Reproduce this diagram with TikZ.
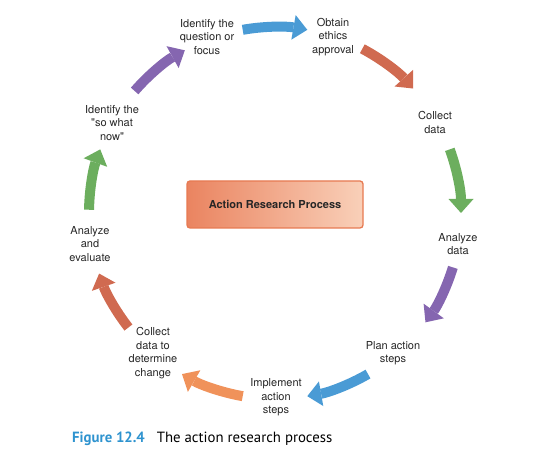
\documentclass[tikz,border=0pt]{standalone}
\usepackage{fontspec}
\setmainfont{TeX Gyre Heros}
\newfontfamily\plainfont{TeX Gyre Heros}
\newfontfamily\capfont{PT Sans}
\usetikzlibrary{arrows.meta,calc}
\definecolor{cblue}{HTML}{4A9BD5}
\definecolor{cred}{HTML}{D06A50}
\definecolor{cgreen}{HTML}{6CAE5E}
\definecolor{cpurple}{HTML}{8566B0}
\definecolor{corange}{HTML}{F0925A}
\definecolor{boxl}{HTML}{EA8460}
\definecolor{boxr}{HTML}{F9D0B9}
\definecolor{boxedge}{HTML}{E77A52}
\definecolor{figblue}{HTML}{2E93CF}
\definecolor{txt}{HTML}{262626}
\begin{document}
\begin{tikzpicture}[x=1pt,y=1pt,
  lab/.style={align=center,font=\plainfont\fontsize{11}{13.6}\selectfont,text=txt,inner sep=0pt},
  carrow/.style={line width=10pt,-{Triangle[width=25pt,length=14pt,line width=0pt]}}]
\useasboundingbox (0,0) rectangle (551,462);
\coordinate (C) at (275,249);
% curved arrows
\foreach \a/\b/\c in {100/80/cblue, 62/42/cred, 20/0/cgreen, -17/-36/cpurple,
  -60/-80/cblue, -100/-120/corange, -142/-161/cred, 179/160/cgreen, 139/119/cpurple}
  \draw[carrow,draw=\c] ($(C)+(\a:186)$) arc[start angle=\a,end angle=\b,radius=186];
% step labels
\node[lab] (Q1) at (207,425) {Identify the\\question or\\focus};
\node[lab] (Q2) at (333,425) {Obtain\\ethics\\approval};
\node[lab] (Q3) at (435,339.5) {Collect\\data};
\node[lab] (Q4) at (458,218) {Analyze\\data};
\node[lab] (Q5) at (393,109) {Plan action\\steps};
\node[lab] (Q6) at (276,64.5) {Implement\\action\\steps};
\node[lab] (Q7) at (153,109) {Collect\\data to\\determine\\change};
\node[lab] (Q8) at (90,218) {Analyze\\and\\evaluate};
\node[lab] (Q9) at (112,339) {Identify the\\"so what\\now"};
% centre box
\node[draw=boxedge,line width=1.3pt,rounded corners=3pt,left color=boxl,right color=boxr,
  minimum width=176pt,minimum height=47pt,text=txt,
  font=\bfseries\fontsize{11}{13}\selectfont] (T) at (275,257.5) {Action Research Process};
% caption
\node[anchor=base west,inner sep=0pt] (F) at (72,19)
  {\capfont\fontsize{14.8}{16}\selectfont\textcolor{figblue}{\bfseries Figure 12.4}\hspace{12pt}The action research process};
\end{tikzpicture}
\end{document}
